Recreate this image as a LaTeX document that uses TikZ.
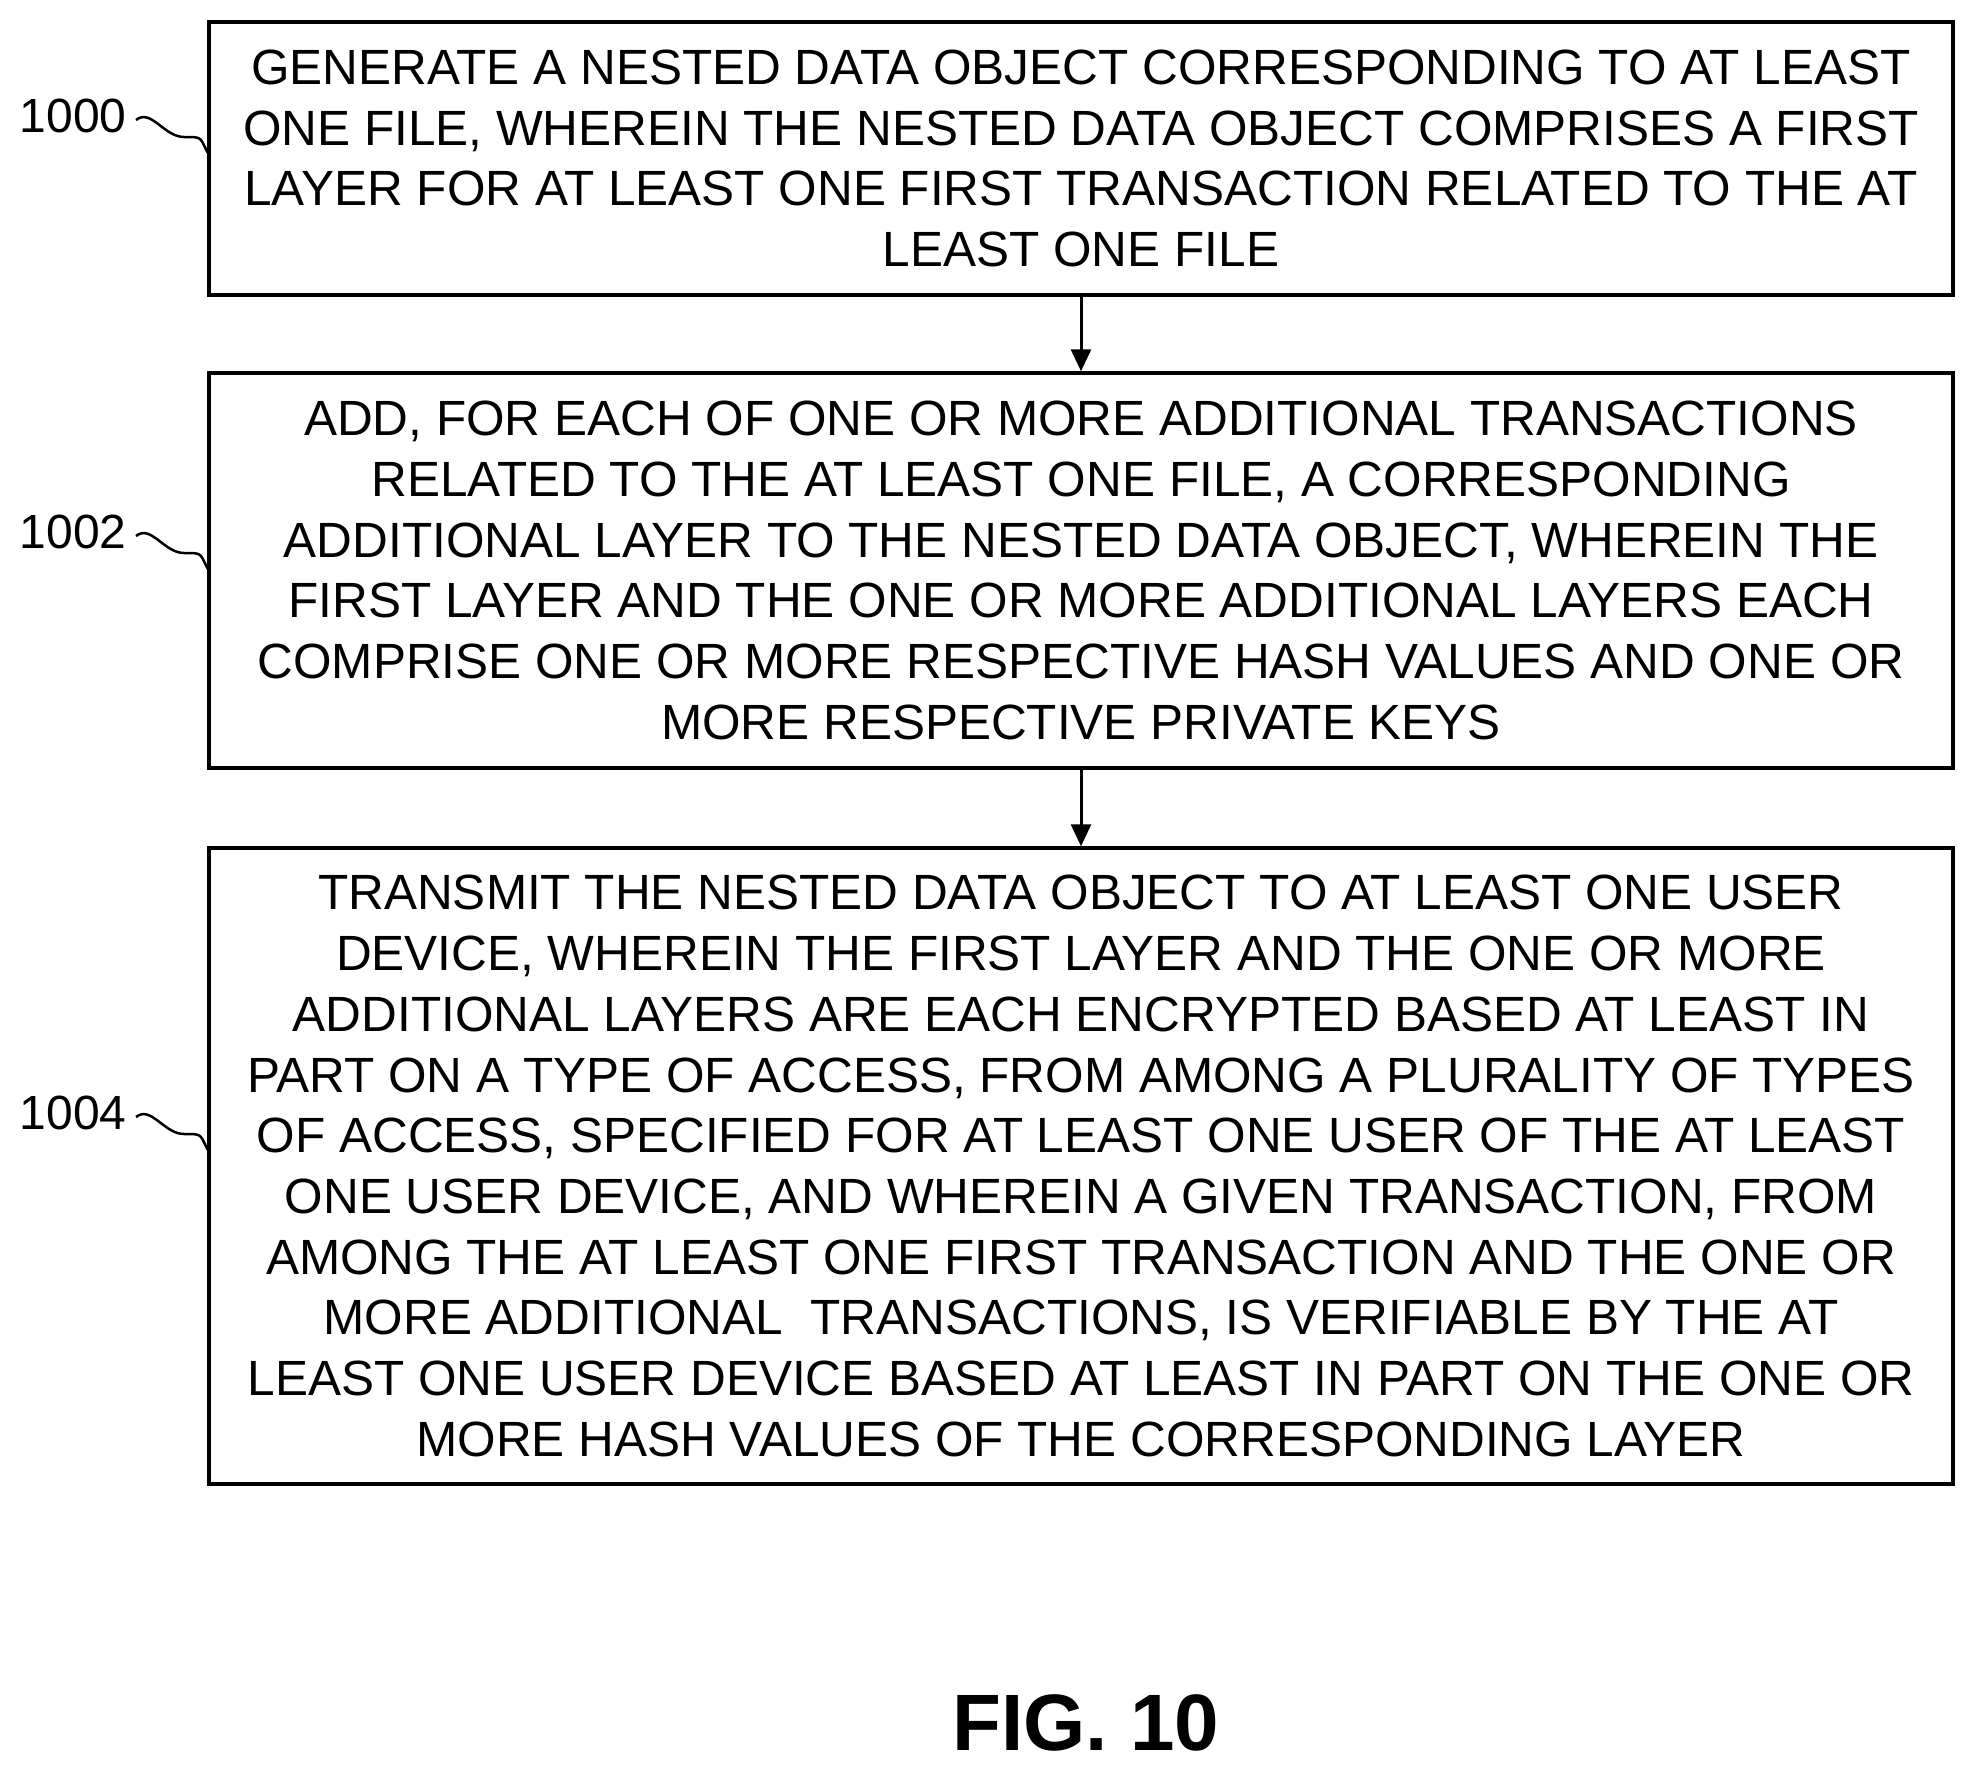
\documentclass[tikz,border=0pt]{standalone}
\usepackage{fontspec}
\setmainfont{Liberation Sans}
\usetikzlibrary{arrows.meta}
\begin{document}
\begin{tikzpicture}[x=1pt,y=-1pt,
  box/.style={draw,line width=3.5pt,minimum width=1744pt,align=center,inner sep=0pt,font=\fontsize{49.5}{60.7}\selectfont},
  lbl/.style={font=\fontsize{48}{50}\selectfont,anchor=east},
  arr/.style={line width=3pt,-{Triangle[length=22pt,width=20pt]}},
  sq/.style={line width=2.5pt}]
\useasboundingbox (0,0) rectangle (1974,1765);
\node[box,minimum height=273pt] (b1) at (1081,158.5) {GENERATE A NESTED DATA OBJECT CORRESPONDING TO AT LEAST\\ONE FILE, WHEREIN THE NESTED DATA OBJECT COMPRISES A FIRST\\LAYER FOR AT LEAST ONE FIRST TRANSACTION RELATED TO THE AT\\LEAST ONE FILE};
\node[box,minimum height=395pt] (b2) at (1081,570.5) {ADD, FOR EACH OF ONE OR MORE ADDITIONAL TRANSACTIONS\\RELATED TO THE AT LEAST ONE FILE, A CORRESPONDING\\ADDITIONAL LAYER TO THE NESTED DATA OBJECT, WHEREIN THE\\FIRST LAYER AND THE ONE OR MORE ADDITIONAL LAYERS EACH\\COMPRISE ONE OR MORE RESPECTIVE HASH VALUES AND ONE OR\\MORE RESPECTIVE PRIVATE KEYS};
\node[box,minimum height=636pt] (b3) at (1081,1166) {TRANSMIT THE NESTED DATA OBJECT TO AT LEAST ONE USER\\DEVICE, WHEREIN THE FIRST LAYER AND THE ONE OR MORE\\ADDITIONAL LAYERS ARE EACH ENCRYPTED BASED AT LEAST IN\\PART ON A TYPE OF ACCESS, FROM AMONG A PLURALITY OF TYPES\\OF ACCESS, SPECIFIED FOR AT LEAST ONE USER OF THE AT LEAST\\ONE USER DEVICE, AND WHEREIN A GIVEN TRANSACTION, FROM\\AMONG THE AT LEAST ONE FIRST TRANSACTION AND THE ONE OR\\MORE ADDITIONAL\ \ TRANSACTIONS, IS VERIFIABLE BY THE AT\\LEAST ONE USER DEVICE BASED AT LEAST IN PART ON THE ONE OR\\MORE HASH VALUES OF THE CORRESPONDING LAYER};
\draw[arr] (b1.south) -- (b2.north);
\draw[arr] (b2.south) -- (b3.north);
\node[lbl] (l1) at (130,116) {1000};
\node[lbl] (l2) at (130,532) {1002};
\node[lbl] (l3) at (130,1113) {1004};
\foreach \l/\b/\y in {l1/b1/155,l2/b2/571,l3/b3/1152}{
  \coordinate (e) at (209,\y);
  \draw[sq] ([xshift=6pt,yshift=-4pt]\l.east) .. controls +(15,-12) and +(-20,0) .. +(48,17) .. controls +(20,0) and +(-10,-18) .. (e);
}
\node[font=\bfseries\fontsize{80}{90}\selectfont] (fig) at (1086,1723) {FIG. 10};
\end{tikzpicture}
\end{document}
